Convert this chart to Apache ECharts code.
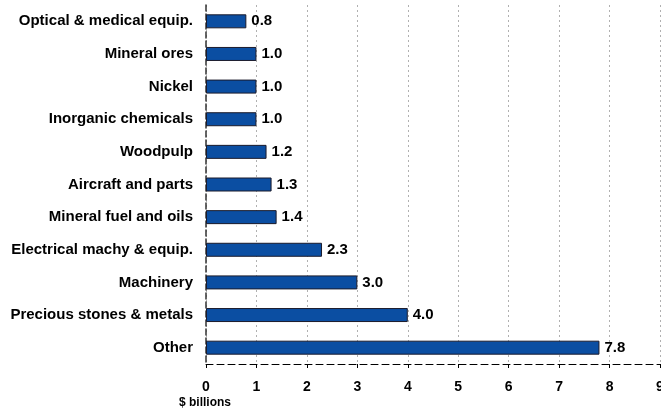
<!DOCTYPE html>
<html>
<head>
<meta charset="utf-8">
<script src="https://cdn.jsdelivr.net/npm/echarts@6/dist/echarts.min.js"></script>
<style>
  html, body { margin: 0; padding: 0; background: #fff; }
  #chart { width: 661px; height: 410px; }
</style>
</head>
<body>
<div id="chart"></div>
<script>
// Export categories, top to bottom
const categories = [
  'Optical & medical equip.',
  'Mineral ores',
  'Nickel',
  'Inorganic chemicals',
  'Woodpulp',
  'Aircraft and parts',
  'Mineral fuel and oils',
  'Electrical machy & equip.',
  'Machinery',
  'Precious stones & metals',
  'Other'
];
// Values in $ billions
const values = [0.8, 1.0, 1.0, 1.0, 1.2, 1.3, 1.4, 2.3, 3.0, 4.0, 7.8];
const axisUnit = '$ billions';

const FONT = '"Liberation Sans", Arial, sans-serif';

const chart = echarts.init(document.getElementById('chart'), null, { renderer: 'canvas' });
chart.setOption({
  animation: false,
  backgroundColor: '#ffffff',
  grid: {
    left: 206, right: 1, top: 5, bottom: 46,
    containLabel: false,
    outerBoundsMode: 'none'
  },
  xAxis: {
    type: 'value',
    min: 0,
    max: 9,
    interval: 1,
    axisLine: { show: true, lineStyle: { color: '#000', width: 1, type: [7, 4] } },
    axisTick: { show: true, length: 4, lineStyle: { color: '#000' } },
    axisLabel: {
      color: '#000', fontFamily: FONT, fontWeight: 'bold', fontSize: 14, margin: 16,
      hideOverlap: false,
      formatter: v => String(v)
    },
    splitLine: { show: true, lineStyle: { color: '#b0b0b0', width: 1, type: [2, 3] } }
  },
  yAxis: {
    type: 'category',
    data: categories,
    inverse: true,
    axisLine: { show: true, lineStyle: { color: '#333', width: 1.5, type: [6, 3] } },
    axisTick: { show: false },
    axisLabel: {
      color: '#000', fontFamily: FONT, fontWeight: 'bold', fontSize: 15, margin: 13
    },
    splitLine: { show: false }
  },
  series: [{
    type: 'bar',
    data: values,
    barWidth: 14,
    itemStyle: { color: '#0b4ea2', borderColor: '#1b1b2b', borderWidth: 1 },
    label: {
      show: true,
      position: 'right',
      distance: 5,
      color: '#000',
      fontFamily: FONT,
      fontWeight: 'bold',
      fontSize: 15,
      formatter: p => p.value.toFixed(1)
    }
  }],
  graphic: [{
    type: 'text',
    x: 205,
    y: 403,
    style: {
      text: axisUnit,
      fill: '#000',
      font: 'bold 12px ' + FONT,
      textAlign: 'center',
      textVerticalAlign: 'middle'
    }
  }]
});
</script>
</body>
</html>
